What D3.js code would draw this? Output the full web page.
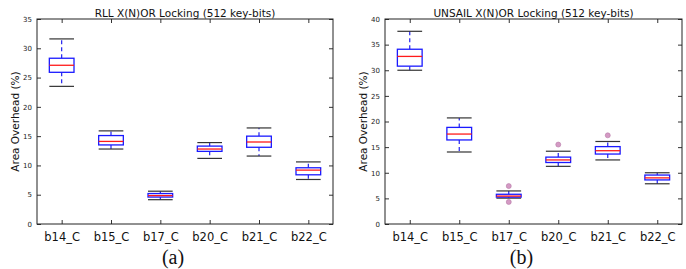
<!DOCTYPE html>
<html>
<head>
<meta charset="utf-8">
<script src="https://cdn.jsdelivr.net/npm/d3@7"></script>
<style>
  body { margin: 0; background: #fff; }
  svg { display: block; }
</style>
</head>
<body>
<svg id="chart" width="686" height="269"></svg>
<script>
// benchmark circuits, same for both panels
const categories = ['b14_C', 'b15_C', 'b17_C', 'b20_C', 'b21_C', 'b22_C']

// panel (a): RLL
const rllLow = [23.5, 12.8, 4.15, 11.2, 11.6, 7.6]
const rllQ1 = [25.9, 13.5, 4.6, 12.4, 13.1, 8.4]
const rllMedian = [27.1, 14.1, 4.85, 12.8, 14.0, 9.2]
const rllQ3 = [28.3, 15.1, 5.2, 13.3, 15.0, 9.6]
const rllHigh = [31.6, 15.9, 5.6, 13.9, 16.4, 10.6]
const rllOutliers = [[], [], [], [], [], []]
const rllTicks = [0, 5, 10, 15, 20, 25, 30, 35]

// panel (b): UNSAIL
const unsailLow = [30.0, 14.05, 5.05, 11.25, 12.5, 7.85]
const unsailQ1 = [30.8, 16.4, 5.25, 12.0, 13.65, 8.6]
const unsailMedian = [32.7, 17.55, 5.45, 12.5, 14.3, 9.0]
const unsailQ3 = [34.1, 18.85, 5.8, 13.05, 15.1, 9.55]
const unsailHigh = [37.6, 20.7, 6.45, 14.2, 16.1, 10.0]
const unsailOutliers = [[], [], [7.4, 4.3], [15.5], [17.3], []]
const unsailTicks = [0, 5, 10, 15, 20, 25, 30, 35, 40]

const svg = d3.select('#chart')

const panels = [
  {
    title: 'RLL X(N)OR Locking (512 key-bits)', caption: '(a)',
    left: 37, right: 333, ymax: 35, ticks: rllTicks,
    low: rllLow, q1: rllQ1, med: rllMedian, q3: rllQ3, high: rllHigh, out: rllOutliers
  },
  {
    title: 'UNSAIL X(N)OR Locking (512 key-bits)', caption: '(b)',
    left: 385, right: 682, ymax: 40, ticks: unsailTicks,
    low: unsailLow, q1: unsailQ1, med: unsailMedian, q3: unsailQ3, high: unsailHigh, out: unsailOutliers
  }
]

const plotTop = 19, plotBottom = 224
const font = 'DejaVu Sans, sans-serif'

for (const p of panels) {
  const g = svg.append('g')
  // positions 1..6 with limits 0.5..6.5, like matplotlib's boxplot
  const x = d3.scaleLinear().domain([0.5, categories.length + 0.5]).range([p.left, p.right])
  const y = d3.scaleLinear().domain([0, p.ymax]).range([plotBottom, plotTop])
  const half = x(1.25) - x(1)

  // ticks pointing inward on all four sides
  const tickLen = 4
  const axisLeft = d3.axisLeft(y).tickValues(p.ticks).tickSizeInner(-tickLen).tickSizeOuter(0).tickPadding(5)
  const ga = g.append('g').attr('transform', `translate(${p.left},0)`).call(axisLeft)
  ga.select('.domain').remove()
  ga.selectAll('text').attr('font-family', font).attr('font-size', 7).attr('fill', '#222')
  ga.selectAll('line').attr('stroke', '#333')

  const axisRight = d3.axisRight(y).tickValues(p.ticks).tickSizeInner(-tickLen).tickSizeOuter(0).tickFormat('')
  const gr = g.append('g').attr('transform', `translate(${p.right},0)`).call(axisRight)
  gr.select('.domain').remove()
  gr.selectAll('line').attr('stroke', '#333')

  const idx = categories.map((c, i) => i + 1)
  const axisBottom = d3.axisBottom(x).tickValues(idx).tickFormat(i => categories[i - 1])
    .tickSizeInner(-tickLen).tickSizeOuter(0).tickPadding(9)
  const gb = g.append('g').attr('transform', `translate(0,${plotBottom})`).call(axisBottom)
  gb.select('.domain').remove()
  gb.selectAll('text').attr('font-family', font).attr('font-size', 11.5).attr('fill', '#111')
  gb.selectAll('line').attr('stroke', '#333')

  const axisTop = d3.axisTop(x).tickValues(idx).tickSizeInner(-tickLen).tickSizeOuter(0).tickFormat('')
  const gt = g.append('g').attr('transform', `translate(0,${plotTop})`).call(axisTop)
  gt.select('.domain').remove()
  gt.selectAll('line').attr('stroke', '#333')

  // frame
  g.append('rect')
    .attr('x', p.left).attr('y', plotTop)
    .attr('width', p.right - p.left).attr('height', plotBottom - plotTop)
    .attr('fill', 'none').attr('stroke', '#222').attr('stroke-width', 1)

  const rows = categories.map((c, i) => ({
    pos: i + 1, low: p.low[i], q1: p.q1[i], med: p.med[i], q3: p.q3[i], high: p.high[i], out: p.out[i]
  }))

  const box = g.selectAll('g.box').data(rows).join('g').attr('class', 'box')

  // dashed whiskers
  box.append('line')
    .attr('x1', d => x(d.pos)).attr('x2', d => x(d.pos))
    .attr('y1', d => y(d.q3)).attr('y2', d => y(d.high))
    .attr('stroke', '#2222ee').attr('stroke-width', 1.2).attr('stroke-dasharray', '4,3')
  box.append('line')
    .attr('x1', d => x(d.pos)).attr('x2', d => x(d.pos))
    .attr('y1', d => y(d.q1)).attr('y2', d => y(d.low))
    .attr('stroke', '#2222ee').attr('stroke-width', 1.2).attr('stroke-dasharray', '4,3')

  // caps
  for (const key of ['low', 'high']) {
    box.append('line')
      .attr('x1', d => x(d.pos - 0.25)).attr('x2', d => x(d.pos + 0.25))
      .attr('y1', d => y(d[key])).attr('y2', d => y(d[key]))
      .attr('stroke', '#333').attr('stroke-width', 1.2)
  }

  box.append('rect')
    .attr('x', d => x(d.pos) - half).attr('width', 2 * half)
    .attr('y', d => y(d.q3)).attr('height', d => y(d.q1) - y(d.q3))
    .attr('fill', '#fff').attr('stroke', '#1a1aff').attr('stroke-width', 1.3)

  box.append('line')
    .attr('x1', d => x(d.pos) - half).attr('x2', d => x(d.pos) + half)
    .attr('y1', d => y(d.med)).attr('y2', d => y(d.med))
    .attr('stroke', '#ff1a1a').attr('stroke-width', 1.3)

  box.selectAll('circle').data(d => d.out.map(v => ({ pos: d.pos, v }))).join('circle')
    .attr('cx', d => x(d.pos)).attr('cy', d => y(d.v)).attr('r', 2.5)
    .attr('fill', '#d49ac4').attr('stroke', '#b77aa8').attr('stroke-width', 0.6)

  g.append('text')
    .attr('x', (p.left + p.right) / 2).attr('y', plotTop - 2.5)
    .attr('text-anchor', 'middle')
    .attr('font-family', font).attr('font-size', 10.5).attr('fill', '#111')
    .text(p.title)

  g.append('text')
    .attr('transform', `translate(${p.left - 18},${(plotTop + plotBottom) / 2}) rotate(-90)`)
    .attr('text-anchor', 'middle')
    .attr('font-family', font).attr('font-size', 10.5).attr('fill', '#111')
    .text('Area Overhead (%)')

  g.append('text')
    .attr('x', (p.left + p.right) / 2 - 12).attr('y', 264)
    .attr('text-anchor', 'middle')
    .attr('font-family', 'Liberation Serif, Times New Roman, serif').attr('font-size', 20).attr('fill', '#111')
    .text(p.caption)
}
</script>
</body>
</html>
